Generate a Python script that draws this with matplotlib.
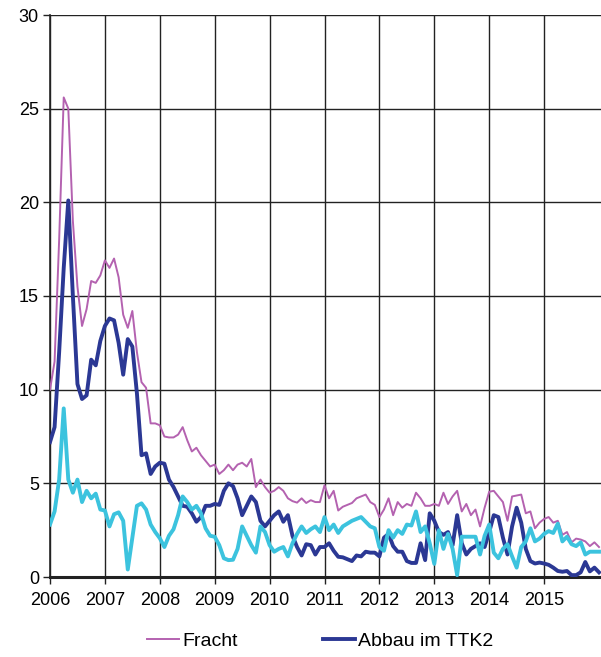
import numpy as np
import matplotlib.pyplot as plt

plt.rcParams['font.family'] = ['Liberation Sans', 'DejaVu Sans']

# monthly values, Jan 2006 .. Jan 2016
fracht = [10.0, 11.5, 18.0, 25.6, 25.0, 19.0, 15.5, 13.4, 14.3, 15.8, 15.7, 16.1,
          16.9, 16.5, 17.0, 16.0, 14.0, 13.3, 14.2, 12.0, 10.4, 10.1, 8.2, 8.2,
          8.1, 7.5, 7.45, 7.45, 7.6, 8.0, 7.3, 6.7, 6.9, 6.5, 6.2, 5.9,
          6.0, 5.5, 5.7, 6.0, 5.7, 6.0, 6.1, 5.9, 6.3, 4.8, 5.2, 4.8,
          4.5, 4.6, 4.8, 4.6, 4.2, 4.05, 3.97, 4.2, 3.95, 4.1, 4.0, 4.0,
          4.9, 4.2, 4.6, 3.55, 3.75, 3.85, 3.95, 4.2, 4.3, 4.4, 4.0, 3.85,
          3.2, 3.6, 4.2, 3.3, 4.0, 3.7, 3.9, 3.8, 4.5, 4.2, 3.8, 3.8,
          3.9, 3.8, 4.5, 3.9, 4.3, 4.6, 3.5, 3.9, 3.3, 3.6, 2.7, 3.7,
          4.55, 4.6, 4.3, 4.0, 3.0, 4.3, 4.35, 4.4, 3.4, 3.5, 2.6, 2.9,
          3.1, 3.2, 2.9, 3.0, 2.25, 2.4, 1.85, 2.05, 2.0, 1.9, 1.65, 1.85,
          1.6]

abbau_ttk2 = [7.2, 8.0, 12.0, 16.5, 20.1, 15.0, 10.3, 9.5, 9.7, 11.6, 11.3, 12.6,
              13.4, 13.8, 13.7, 12.5, 10.8, 12.7, 12.3, 9.8, 6.5, 6.6, 5.5, 5.9,
              6.1, 6.05, 5.2, 4.8, 4.3, 3.8, 3.75, 3.4, 2.95, 3.2, 3.8, 3.8,
              3.9, 3.85, 4.6, 5.0, 4.85, 4.2, 3.3, 3.8, 4.3, 4.0, 3.0, 2.7,
              3.0, 3.3, 3.5, 2.95, 3.3, 2.2, 1.6, 1.15, 1.75, 1.7, 1.2, 1.6,
              1.6, 1.8, 1.4, 1.08, 1.05, 0.95, 0.85, 1.15, 1.1, 1.35, 1.3, 1.3,
              1.1, 2.1, 2.3, 1.65, 1.35, 1.35, 0.85, 0.75, 0.75, 1.8, 0.9, 3.4,
              3.0, 2.4, 2.25, 2.4, 1.7, 3.3, 1.8, 1.2, 1.5, 1.65, 1.8, 1.6,
              2.4, 3.3, 3.2, 2.1, 1.2, 2.7, 3.7, 2.9, 1.5, 0.85, 0.72, 0.77,
              0.72, 0.65, 0.5, 0.32, 0.28, 0.32, 0.1, 0.1, 0.25, 0.8, 0.3, 0.5,
              0.25]

abbau_cyan = [2.8, 3.5, 5.2, 9.0, 5.2, 4.5, 5.2, 4.0, 4.6, 4.2, 4.45, 3.6,
              3.55, 2.7, 3.35, 3.45, 3.0, 0.4, 2.1, 3.8, 3.93, 3.6, 2.8, 2.4,
              2.07, 1.6, 2.2, 2.55, 3.3, 4.3, 4.0, 3.6, 3.8, 3.4, 2.6, 2.2,
              2.15, 1.7, 1.0, 0.9, 0.92, 1.5, 2.7, 2.2, 1.7, 1.3, 2.7, 2.4,
              1.7, 1.35, 1.5, 1.6, 1.1, 1.8, 2.3, 2.7, 2.35, 2.55, 2.7, 2.4,
              3.2, 2.5, 2.8, 2.35, 2.7, 2.85, 3.0, 3.1, 3.2, 2.95, 2.7, 2.6,
              1.6, 1.4, 2.5, 2.1, 2.5, 2.3, 2.8, 2.75, 3.5, 2.4, 2.7, 1.8,
              0.7, 2.5, 1.5, 2.3, 1.5, 0.1, 2.15, 2.15, 2.15, 2.15, 1.2, 2.2,
              2.8, 1.3, 1.0, 1.5, 1.75, 1.1, 0.5, 1.6, 1.9, 2.6, 1.9, 2.05,
              2.3, 2.45, 2.35, 2.85, 1.9, 2.15, 1.75, 1.65, 1.85, 1.2, 1.35, 1.35,
              1.35]

years = list(range(2006, 2016))
t = 2006 + np.arange(len(fracht)) / 12

fig = plt.figure(figsize=(6.01, 6.57), dpi=100)
ax = fig.add_axes([50 / 601, 80 / 657, 551 / 601, 562 / 657])

ax.plot(t, fracht, color='#B462B0', lw=1.4, label='Fracht', zorder=3)
ax.plot(t, abbau_ttk2, color='#2B3894', lw=2.8, label='Abbau im TTK2', zorder=4)
ax.plot(t, abbau_cyan, color='#3CC3DE', lw=2.8, zorder=5)

ax.set_xlim(2006, 2006 + 551 / 54.9)
ax.set_ylim(0, 30)
ax.set_xticks(years)
ax.set_xticklabels([str(y) for y in years])
ax.set_yticks(range(0, 31, 5))
ax.tick_params(labelsize=13, length=5, width=1, color='#222222', pad=3)
ax.tick_params(axis='x', pad=6)
ax.grid(True, color='#222222', lw=1.0)
ax.set_axisbelow(True)
for s in ['top', 'right']:
    ax.spines[s].set_visible(False)
ax.spines['left'].set_color('#222222')
ax.spines['left'].set_linewidth(1.2)
ax.spines['bottom'].set_color('#222222')
ax.spines['bottom'].set_linewidth(2.2)

fig.legend(loc='center left', bbox_to_anchor=(147 / 601, 1 - 641 / 657), ncol=2,
           frameon=False, fontsize=14, handlelength=1.65, handletextpad=0.15,
           columnspacing=4.4, borderaxespad=0, borderpad=0)

fig.savefig('out.png', dpi=100)
